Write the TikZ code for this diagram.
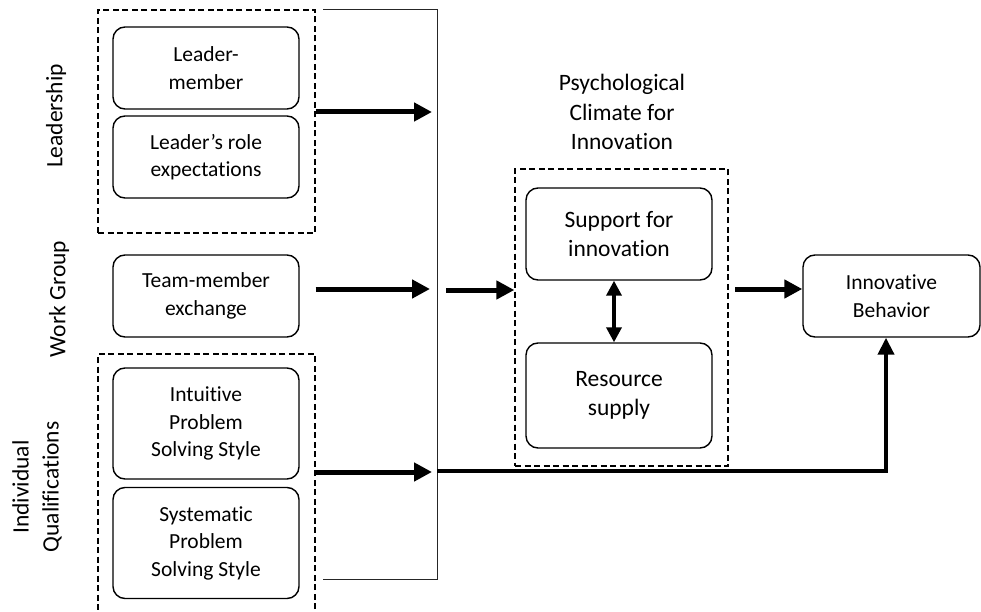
\documentclass[tikz,border=0pt]{standalone}
\usepackage{fontspec}
\setmainfont[Ligatures=NoCommon]{Carlito}
\usetikzlibrary{arrows.meta}
\newcommand{\smallfs}{\fontsize{21.5}{27.5}\selectfont}
\newcommand{\largefs}{\fontsize{23.5}{29.5}\selectfont}
\tikzset{
  rbox/.style={draw, rounded corners=12pt, line width=1.4pt, inner sep=0pt,
    minimum width=186pt, align=center},
  grp/.style={draw, dash pattern=on 6pt off 3.5pt, line width=1.3pt, inner sep=0pt},
  bigarr/.style={line width=5pt, -{Triangle[length=18pt,width=18pt]}},
  longline/.style={line width=4pt, -{Triangle[length=17pt,width=16pt]}},
  duoarr/.style={line width=3.5pt, {Triangle[length=15pt,width=15pt]}-{Triangle[length=15pt,width=15pt]}},
  brk/.style={line width=1pt, black!85},
  lbl/.style={font=\largefs, align=center, inner sep=0pt}
}
\begin{document}
\begin{tikzpicture}[x=1pt, y=-1pt]
\useasboundingbox (0,0) rectangle (981,612);
\clip (0,0) rectangle (981,612);

% side labels
\node[lbl, rotate=90] (labLead) at (56,116) {Leadership};
\node[lbl, rotate=90] (labWork) at (59,299) {Work Group};
\node[lbl, rotate=90, font=\fontsize{23.5}{30}\selectfont] (labInd) at (37,487) {Individual\\Qualifications};

% group boxes
\node[grp, minimum width=217pt, minimum height=223pt] (leadgrp) at (206.5,121.5) {};
\node[grp, minimum width=217pt, minimum height=266pt] (indgrp) at (206.5,487) {};
\node[grp, minimum width=213pt, minimum height=297pt] (midgrp) at (621.5,317.5) {};

% left boxes
\node[rbox, minimum height=82pt, font=\smallfs] (lmx) at (206,68) {Leader-\\member};
\node[rbox, minimum height=82pt, font=\smallfs] (lre) at (206,157) {Leader’s role\\expectations};
\node[rbox, minimum height=82pt, font=\smallfs] (tmx) at (206,296) {Team-member\\exchange};
\node[rbox, minimum height=111pt, font=\smallfs] (ips) at (206,423.5) {Intuitive\\Problem\\Solving Style};
\node[rbox, minimum height=111pt, font=\smallfs] (sps) at (206,543) {Systematic\\Problem\\Solving Style};

% middle
\node[lbl] (psy) at (622,112) {Psychological\\Climate for\\Innovation};
\node[rbox, minimum height=92pt, font=\largefs] (sup) at (619,234) {Support for\\innovation};
\node[rbox, minimum height=105pt, font=\largefs] (res) at (619,395.5) {Resource\\supply};

% right
\node[rbox, minimum width=177pt, minimum height=82pt, font=\smallfs] (inb) at (891.5,296) {Innovative\\Behavior};

% bracket
\coordinate (bTL) at (323,10);
\coordinate (bTR) at (437,10);
\coordinate (bBR) at (437,579);
\coordinate (bBL) at (323,579);
\draw[brk] (bTL) -- (bTR) -- (bBR) -- (bBL);

% arrows into bracket
\coordinate (t1) at (432,112);
\coordinate (t2) at (430,289);
\coordinate (t3) at (432,472);
\draw[bigarr] (leadgrp.east |- t1) -- (t1);
\draw[bigarr] (leadgrp.east |- t2) -- (t2);
\draw[bigarr] (indgrp.east |- t3) -- (t3);

% from bracket to middle group
\coordinate (s2) at (446,290);
\draw[bigarr] (s2) -- (midgrp.west |- s2);

% middle to innovative behavior
\coordinate (s4) at (735,289);
\draw[bigarr] (s4) -- (inb.west |- s4);

% double arrow
\draw[duoarr] ([xshift=-5pt]sup.south) -- ([xshift=-5pt]res.north);

% bottom long line
\coordinate (bj) at (437,471);
\coordinate (bc) at (886,471);
\draw[longline] (bj) -- (bc) -- (bc |- inb.south);
\end{tikzpicture}
\end{document}
